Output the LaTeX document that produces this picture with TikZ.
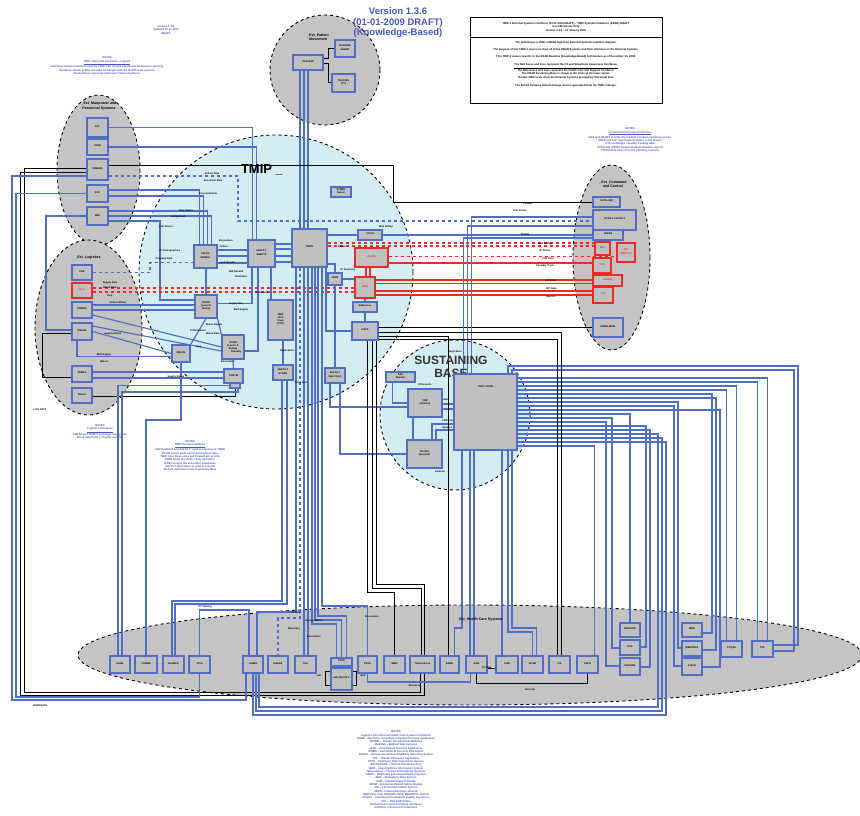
\documentclass[tikz,border=0pt]{standalone}
\usepackage{fontspec}
\setmainfont{Liberation Sans}
\usetikzlibrary{fit}
\pgfdeclarelayer{bg}
\pgfdeclarelayer{lines}
\pgfsetlayers{bg,lines,main}
\definecolor{lnblue}{HTML}{4F6EC6}
\definecolor{ttlblue}{HTML}{4558BC}
\definecolor{extgray}{HTML}{C4C4C4}
\definecolor{tmipblue}{HTML}{D3EDF3}
\definecolor{boxgray}{HTML}{C0C0C0}
\definecolor{lnred}{HTML}{EE2A24}
\newcommand\tinyf{\fontsize{2.5}{3.1}\selectfont}
\newcommand\notef{\fontsize{2.7}{3.3}\selectfont}
\newcommand\bx[5][bbox]{\node[#1, fit={(#3) (#4)}] (#2) {#5};}
\begin{document}
\begin{tikzpicture}[x=1pt,y=-1pt,
 ext/.style={draw=black, dashed, line width=0.9pt, fill=extgray},
 tmipc/.style={draw=black, dashed, line width=0.9pt, fill=tmipblue},
 bbox/.style={draw=lnblue, line width=1.2pt, fill=boxgray, inner sep=0pt, font=\tinyf\bfseries, align=center},
 rbox/.style={draw=lnred, line width=1.2pt, fill=boxgray, inner sep=0pt, font=\tinyf\bfseries, text=lnred, align=center},
 bl/.style={draw=lnblue, line width=1.15pt},
 bk/.style={draw=black, line width=1pt},
 rd/.style={draw=lnred, line width=1.5pt},
 note/.style={text=ttlblue, font=\notef\bfseries, align=center, inner sep=0pt},
 lbl/.style={font=\tinyf\bfseries, inner sep=0.3pt},
 extlbl/.style={font=\fontsize{3.6}{4.2}\selectfont\bfseries, align=center, inner sep=0pt},
]
\useasboundingbox (0,0) rectangle (860,816);
\begin{pgfonlayer}{bg}
 \fill[white] (0,0) rectangle (860,816);
 \draw[ext] (325,70) circle [radius=55];
 \draw[ext] (98.5,170) ellipse [x radius=41.5, y radius=75];
 \draw[ext] (88.5,327.5) ellipse [x radius=53.5, y radius=87.5];
 \draw[ext] (611.5,257.5) ellipse [x radius=38.5, y radius=92.5];
 \draw[ext] (470,655) ellipse [x radius=392, y radius=50];
 \draw[tmipc] (276,272) circle [radius=137];
 \draw[tmipc] (455,415) circle [radius=75];
\end{pgfonlayer}

% ---------- titles and notes
\node[font=\fontsize{9.5}{10.5}\selectfont\bfseries, text=ttlblue, align=center] (title) at (398,23) {Version 1.3.6\\(01-01-2009 DRAFT)\\(Knowledge-Based)};
\node[draw, line width=0.8pt, minimum width=192pt, minimum height=86pt, inner sep=0pt] (hdr) at (566,60) {};
\draw[line width=0.8pt] (hdr.west |- 0,37) -- (hdr.east |- 0,37);
\node[font=\fontsize{2.7}{3.4}\selectfont\bfseries, align=center] (hdrtop) at (566,27) {TMIP-J External Systems Interfaces (01-01-2009 DRAFT) -- TMIP Systems Interfaces (KBAR) DRAFT\\For Official Use Only\\Version 1.3.6 -- 01 January 2009};
\node[font=\fontsize{2.7}{3.3}\selectfont\bfseries, align=center] (hdrbody) at (566,64) {The following is a TMIP-J KBAR high-level External Systems interface diagram.\\[4pt]
The purpose of this TMIP-J view is to show all of the KBAR Systems and their interfaces to the External Systems.\\[4pt]
This TMIP-J view is specific to the KBAR Baseline (Knowledge-Based) Architecture as of December 15, 2008.\\[5pt]
\underline{The Red boxes and lines represent the C2 and Situational Awareness interfaces.}\\
The Blue boxes and lines represent the Health Care and Support interfaces.\\
The KBAR Sustaining Base is shown in the circle at the lower center.\\
The Ext TMIP ovals show the External Systems grouped by functional area.\\[5pt]
The Ext DS Systems Data Exchange chart is generated from the TMIP-J design.};

\node[note] (n1) at (107,66) {NOTES\\\underline{TMIP-J External Interfaces -- Legend}\\Interfaces shown in Red are used by TMIP-J for C2 and Situational Awareness reporting\\Interfaces shown in Blue are data exchanges with the Health Care systems\\Dashed lines represent planned or future interfaces};
\node[note] (n2) at (166,30) {Version 1.3.6\\Updated 01-01-2009\\DRAFT};
\node[note] (n3) at (630,140) {NOTES\\\underline{Command and Control Interfaces}\\MC4 and JMeWS provide the medical common operating picture\\JMAR and JCP report patient status to the theater\\CTS exchanges casualty tracking data\\GCCS and JOPES receive medical situation reports\\TPFDD data flows from the planning systems};
\node[note] (n4) at (100,432) {NOTES\\\underline{Logistics Interfaces}\\DMLSS and TEWLS exchange supply data\\Blood data flows to theater systems};
\node[note] (n4b) at (190,456) {NOTES\\\underline{TMIP Internal Interfaces}\\AHLTA-Mobile and AHLTA-T send encounters to TMDS\\DCAM Level I and Level II send patient data\\TMIP Joint Fixes store and forward all records\\TMDS feeds the theater data repository\\ICDB receives the encounter summaries\\AHLTA-T Web Client is used at Level III\\All data replicates to the Sustaining Base};
\node[note] (n5) at (396,770) {NOTES\\Legend of the External Health Care Systems Interfaces\\ESSE -- Electronic Surveillance System for Early notification\\TOMMS -- Theater Occupational Medicine\\MedWeb -- Medical Web Services\\JPTA -- Joint Patient Tracking Application\\ASIMS -- Aeromedical Services Information\\DEERS -- Defense Enrollment Eligibility Reporting System\\TPA -- Theater Pharmacy Application\\PDTS -- Pharmacy Data Transaction Service\\AHLTA/CHCS -- Clinical Data Repository\\NMIS -- Navy Medicine Information System\\Telemedicine -- Theater Telemedicine Services\\SAMS -- Shipboard Automated Medical System\\AMS -- Ambulatory Data System\\CSM -- Clinical Support Module\\EPSM -- Enterprise Patient Safety Module\\CIS -- Clinical Information System\\PEPR -- Patient Electronic Record\\MEDCOM, CSA, DOEHRS, MHS, MEDPROS, AHLTA\\CCQAS -- Centralized Credentials Quality Assurance\\TOL -- TRICARE Online\\Dashed lines represent future interfaces\\Red lines represent C2 interfaces};
\node[lbl] (lbl1) at (40,410) {LOG DATA};
\node[lbl] (lbl2) at (40,706) {CHDR DATA};

% ---------- region labels
\node[extlbl] (lpm) at (318,37) {\_Ext\_Patient\\Movement};
\node[extlbl] (lmp) at (99,106) {\_Ext\_Manpower and\\Personnel Systems};
\node[extlbl] (llg) at (88,258) {\_Ext\_Logistics};
\node[extlbl] (lc2) at (613,184) {\_Ext\_Command\\and Control};
\node[extlbl] (lhc) at (480,620) {\_Ext\_Health Care Systems};
\node[font=\fontsize{13}{14}\selectfont\bfseries] (ltmip) at (262,170) {TMIP \_};
\node[font=\fontsize{12}{13}\selectfont\bfseries, text=black!80, align=center] (lsb) at (451,367) {SUSTAINING\\BASE};

% ---------- boxes
\bx{pm1}{293,55}{323,70}{TRAC2ES}
\bx{pm2}{335,40}{355,57}{TRAC2ES\\AGENT}
\bx{pm3}{332,74}{355,92}{TRAC2ES\\(TF)}

\bx{mp1}{87,118}{108,137}{DTF}
\bx{mp2}{87,139}{108,155}{DTAS}
\bx{mp3}{87,159}{108,180}{DIMHRS}
\bx{mp4}{87,185}{108,202}{DAV}
\bx{mp5}{87,207}{108,225}{MRI}

\bx{lg1}{72,265}{92,280}{CSE}
\bx[rbox]{lg2}{72,283}{92,298}{DLA}
\bx{lg3}{72,302}{92,318}{TAMMIS}
\bx{lg4}{72,323}{92,340}{DMLSS}
\bx{lg5}{72,366}{92,382}{TEWLS}
\bx{lg6}{72,388}{92,403}{Blood}

\bx{c1}{593,197}{620,207}{GCCS-A/M}
\bx{c2}{593,210}{636,230}{GCCS-J / GCSS-J}
\bx{c3}{593,230}{623,240}{JOPES}
\bx[rbox]{r1}{595,242}{610,255}{MC4}
\bx[rbox]{r2}{617,243}{635,262}{JTF\\MEDCCS}
\bx[rbox]{r3}{593,258}{611,273}{CTS}
\bx[rbox]{r4}{593,275}{622,286}{JMEWS}
\bx[rbox]{r5}{593,287}{613,303}{JCP}
\bx{c4}{593,318}{623,337}{MMSS-MDW}

\bx{t_sym}{331,187}{351,197}{SYMED\\Server}
\bx{t_main}{292,229}{327,267}{TMDS}
\bx{t_a}{248,240}{275,267}{AHLTA-T\\SHEPTS}
\bx{t_b}{194,245}{217,268}{AHLTA-\\MOBILE}
\bx{t_c}{358,230}{382,240}{TCCM}
\bx[rbox]{t_red1}{355,248}{388,267}{JMeWS}
\bx{t_d}{328,273}{342,285}{ICDB}
\bx[rbox]{t_red2}{355,277}{375,298}{JMAR}
\bx{t_e}{353,302}{377,312}{Reference}
\bx{t_f}{352,322}{378,340}{CHCS}
\bx{t_g}{195,295}{217,318}{DCAM\\(Level II\\Above)}
\bx{t_h}{268,300}{293,340}{TMIP\\Joint\\Fixes\\(TC2)}
\bx{t_i}{172,345}{190,362}{DMLSS}
\bx{t_j}{222,335}{244,359}{DCAM\\(Level I \&\\Below)}
\bx{t_k}{224,369}{243,383}{TMIP-M}
\bx{t_k2}{230,383}{240,388}{}
\bx{t_l}{273,365}{293,380}{AHLTA-T\\STORE}
\bx{t_m}{325,368}{345,383}{AHLTA-T\\Web Client}

\bx{s1}{386,372}{415,382}{SSO\\Monitor}
\bx{s2}{408,389}{442,417}{CDR\\(Clinical)}
\bx{s3}{407,440}{442,468}{CHCS II\\(Sentinel)}
\node[bbox, fit={(454,374) (517,450)}, label={[lbl, anchor=north, yshift=-12pt]north:CDR / CHDR}] (s4) {};

\bx{h1}{110,656}{130,673}{ESSE}
\bx{h2}{135,656}{157,673}{TOMMS}
\bx{h3}{163,656}{184,673}{MedWeb}
\bx{h4}{189,656}{210,673}{JPTA}
\bx{h5}{243,656}{263,673}{ASIMS}
\bx{h6}{268,656}{288,673}{DEERS}
\bx{h7}{295,656}{316,673}{TPA}
\bx{h8a}{331,658}{352,666}{PDTS}
\bx{h8b}{331,668}{352,690}{AHLTA/CHCS}
\bx{h9}{358,656}{377,673}{PDTS}
\bx{h10}{384,656}{405,673}{NMIS}
\bx{h11}{410,656}{435,673}{Telemedicine}
\bx{h12}{440,656}{459,673}{SAMS}
\bx{h13}{466,656}{487,673}{AMS}
\bx{h14}{496,656}{518,673}{CSM}
\bx{h15}{522,656}{543,673}{EPSM}
\bx{h16}{549,656}{570,673}{CIS}
\bx{h17}{577,656}{598,673}{PEPR}
\bx{col1a}{620,623}{640,637}{MEDCOM}
\bx{col1b}{620,640}{640,655}{CSA}
\bx{col1c}{620,658}{640,675}{DOEHRS}
\bx{col2a}{682,623}{702,637}{MHS}
\bx{col2b}{682,641}{702,656}{MEDPROS}
\bx{col2c}{682,658}{702,675}{AHLTA}
\bx{h18}{721,641}{742,657}{CCQAS}
\bx{h19}{752,641}{773,657}{TOL}

% ---------- connectors
\begin{pgfonlayer}{lines}
% patient movement
\foreach \x in {300,304,308}{\draw[bl] (pm1.south -| \x,0) -- (t_main.north -| \x,0);}
\draw[bk] (pm1.east |- 0,59) -- (328,59) |- (pm2.west);
\draw[bk] (pm1.east |- 0,64) -- (328,64) |- (pm3.west);
% manpower
\draw[bl] (mp1.east) -| ([xshift=-9pt]t_a.north);
\draw[bl] (mp2.east) -| ([xshift=-5pt]t_a.north);
\draw[bk] (mp3.east |- 0,165) -- (393,165) -- (393,202) -- (c1.west);
\draw[bl,dashed] (mp3.east |- 0,176) -| (238,221) -- (c2.west |- 0,221);
\draw[bl] (mp4.east |- 0,190) -| ([xshift=-6pt]t_b.north);
\draw[bl] (mp4.east |- 0,196) -| ([xshift=-2pt]t_b.north);
\draw[bl] (mp5.east |- 0,211) -| ([xshift=2pt]t_b.north);
\draw[bl] (mp5.east |- 0,216) -| ([xshift=6pt]t_b.north);
\draw[bl] (mp5.east |- 0,221) -| (160,300) -- (t_g.west |- 0,300);
% left frame
\draw[bk] (mp3.west |- 0,168) -| (24,692) -| ([xshift=-2pt]h11.south);
\draw[bk] (mp3.west |- 0,172) -| (20,695) -| ([xshift=2pt]h11.south);
\draw[bl] (mp3.west |- 0,176) -| (12,700) -| ([xshift=-7pt]h5.south);
\draw[bl] (mp4.west) -| (16,697) -| (h4.south);
% logistics
\draw[bl,dashed] (lg1.east) -- (150,272.5) |- ([yshift=-6pt]t_b.west);
\draw[rd,dashed] (lg2.east |- 0,288) -- (t_red2.west |- 0,288);
\draw[rd,dashed] (lg2.east |- 0,292) -- (t_red2.west |- 0,292);
\draw[bl] (lg3.east |- 0,305) -- (t_g.west |- 0,305);
\draw[bl] (lg3.east |- 0,310) -- (t_g.west |- 0,310);
\draw[bl] (lg3.east |- 0,315) -- (t_j.west);
\draw[bl] (lg4.east |- 0,326) -- ([yshift=-4pt]t_j.west);
\draw[bl] (lg4.east) -- (t_i.west);
\draw[bl] ([xshift=-5pt]lg4.south) |- ([yshift=-3pt]t_i.west);
\draw[bk] (lg4.west |- 0,333) -| (42,377) -- (lg5.west |- 0,377);
\draw[bl] (mp5.west) -| (46,330) -- (lg4.west |- 0,330);
\draw[bl] (lg5.east |- 0,372) -- (t_k.west |- 0,372);
\draw[bl] (lg5.east |- 0,378) -- (t_k.west |- 0,378);
\draw[bk] (lg6.east |- 0,396) -| (t_k2.south);
% TMIP internal
\foreach \y in {244,249,256,262}{\draw[bl] (t_a.east |- 0,\y) -- (t_main.west |- 0,\y);}
\foreach \y in {250,256,263}{\draw[bl] (t_b.east |- 0,\y) -- (t_a.west |- 0,\y);}
\draw[bl] (t_b.south -| 206,0) -- (t_g.north -| 206,0);
\draw[bl] (t_a.south -| 252,0) |- ([yshift=3pt]t_g.east);
\draw[bl] (t_a.south -| 258,0) |- ([yshift=-4pt]t_j.east);
\draw[bl] (t_a.south -| 271,0) -- (t_h.north -| 271,0);
\draw[bl] (t_h.south -| 283,0) -- (t_l.north -| 283,0);
\draw[bl] (t_g.south) -- (t_i.north east);
\draw[bl] (t_g.south east) -- (t_j.north west);
\draw[bl] (t_j.south) -- (t_k.north);
\draw[bl] (t_main.east |- 0,235) -- (t_c.west);
\draw[bl] (t_main.east |- 0,264) -| (t_d.north);
\draw[bl] (t_d.east) -- (t_red2.west |- t_d.east);
\draw[bl] (t_main.south -| 326,0) |- (t_f.west);
\draw[bl] (t_m.north -| 335,0) -- (t_d.south -| 335,0);
\draw[bl] (t_red2.south -| 365,0) -- (t_e.north -| 365,0);
\draw[rd] (t_red1.south -| 366,0) -- (t_red2.north -| 366,0);
\draw[rd] (t_red1.south -| 370,0) -- (t_red2.north -| 370,0);
\draw[bl] (t_e.south -| 365,0) -- (t_f.north -| 365,0);
% red to command and control
\draw[rd,dashed] (t_main.east |- 0,243) -- (r1.west |- 0,243);
\draw[rd,dashed] (t_main.east |- 0,246) -- (r1.west |- 0,246);
\draw[rd,dashed] (t_red1.east |- 0,256.5) -- (r2.west |- 0,256.5);
\draw[rd] (t_red1.east |- 0,263) -- (r3.west |- 0,263);
\draw[rd] (t_red2.east |- 0,280) -- (r4.west |- 0,280);
\draw[rd] (t_red2.east |- 0,283.5) -- (r4.west |- 0,283.5);
\draw[rd] (t_red2.east |- 0,291) -- (r5.west |- 0,291);
\draw[rd] (t_red2.east |- 0,295) -- (r5.west |- 0,295);
% command and control, blue and black
\draw[bl] (c3.west) -- (t_c.east);
\draw[bk] (c4.west) -- (t_f.east |- c4.west);
\draw[bl] (c3.west |- 0,238) -| ([xshift=-22pt]s4.north);
\draw[bl] (c2.west |- 0,226) -| ([xshift=-18pt]s4.north);
\draw[bl] (c2.west |- 0,217) -| ([xshift=-14pt]s4.north);
% sustaining base
\draw[bl] ([xshift=-8pt]s1.south) |- (s2.west);
\draw[bl] (s2.south -| 413,0) -- (s3.north -| 413,0);
\draw[bl] (s2.east |- 0,404) -- (s4.west |- 0,404);
\draw[bl] (s2.east |- 0,409) -- (s4.west |- 0,409);
\draw[bl] (s3.north -| 432,0) |- (s4.west |- 0,424);
\draw[bl] (s3.north -| 436,0) |- (s4.west |- 0,430);
\draw[bl] (t_m.south -| 330,0) |- (s2.west |- 0,407);
\draw[bl] (t_m.south -| 340,0) |- (s3.west);
\draw[bl] (s4.south -| 462,0) -- (462,628) -| ([xshift=5pt]h12.north);
\draw[bl] (s4.south -| 470,0) -- (h13.north -| 470,0);
\draw[bl] (s4.south -| 474,0) -- (h13.north -| 474,0);
\draw[bl] (s4.south -| 502,0) -- (h14.north -| 502,0);
\draw[bl] (s4.south -| 508,0) -- (508,632) -| (h15.north);
\draw[bl] (s4.south -| 512,0) -- (512,628) -| ([xshift=4pt]h15.north);
\draw[bl] (s4.north -| 508,0) |- (798,366) |- (h19.east |- 0,645);
\draw[bl] (s4.north -| 512,0) |- (794,370) |- (h19.east |- 0,651);
\draw[bl] (s4.east |- 0,378) -| ([xshift=5pt]h19.north);
\draw[bl] (s4.east |- 0,382) -| ([xshift=-5pt]h19.north);
\draw[bl] (s4.east |- 0,386) -| ([xshift=5pt]h18.north);
\draw[bl] (s4.east |- 0,390) -| ([xshift=-5pt]h18.north);
\draw[bl] (s4.east |- 0,394) -| (712,633) -- (col2a.east |- 0,633);
\draw[bl] (s4.east |- 0,398) -| (716,650) -- (col2b.east |- 0,650);
\draw[bl] (s4.east |- 0,402) -| (678,648) -- (col2b.west |- 0,648);
\draw[bl] (s4.east |- 0,406) -| (674,666) -- (col2c.west |- 0,666);
\draw[bl] (s4.east |- 0,410) -| (720,667) -- (col2c.east |- 0,667);
\draw[bl] (s4.east |- 0,414) -| (col1a.north);
\draw[bl] (s4.east |- 0,418) -| (612,648) -- (col1b.west |- 0,648);
\draw[bl] (s4.east |- 0,422) -| (606,666) -- (col1c.west |- 0,666);
\draw[bl] (s4.east |- 0,426) -| (646,647) -- (col1b.east |- 0,647);
\draw[bl] (s4.east |- 0,430) -| (650,667) -- (col1c.east |- 0,667);
\draw[bl] (s4.east |- 0,434) -| (658,707) -| ([xshift=6pt]h5.south);
\draw[bl] (s4.east |- 0,438) -| (662,711) -| ([xshift=3pt]h5.south);
\draw[bl] (s4.east |- 0,442) -| (666,715) -| (h5.south);
\draw[bl] (s4.east |- 0,446) -| ([xshift=7pt]h17.north);
% black from CHCS
\draw[bk] (t_f.south -| 367,0) -- (367,592) -| (h10.north);
\draw[bk] (t_f.south -| 372,0) -- (372,588) -| ([xshift=-1.5pt]h11.north);
\draw[bk] (t_f.south -| 376,0) -- (376,584) -| ([xshift=1.5pt]h11.north);
\draw[bk] (t_f.east |- 0,336) -| ([xshift=-1.5pt]h12.north);
\draw[bk] (t_f.east |- 0,339) -| ([xshift=-2pt]h16.north);
\draw[bk] (t_f.east |- 0,332) -| ([xshift=2pt]h16.north);
% TMDS bus to health care
\draw[bl] (t_main.south -| 296,0) -- (296,612) -| ([xshift=4pt]h5.north);
\draw[bl,dashed] (t_main.south -| 300,0) -- (300,618) -| (h6.north);
\draw[bl] (t_main.south -| 304,0) -- (h7.north -| 304,0);
\draw[bl] (t_main.south -| 308,0) -- (h7.north -| 308,0);
\draw[bl] (t_main.south -| 312,0) -- (312,624) -| ([xshift=-5pt]h8a.north);
\draw[bl] (t_main.south -| 315,0) -- (315,620) -| (h8a.north);
\draw[bl] (t_main.south -| 318,0) -- (318,616) -| ([xshift=5pt]h8a.north);
\draw[bl] (t_main.south -| 322,0) -- (322,606) -| (h9.north);
% health care
\draw[bl] (h8a.south) -- (h8b.north);
\draw[bk] (h8b.west |- 0,671) -- (325,671) -- (325,685) -- (h8b.west |- 0,685);
\draw[bk] (h8b.east |- 0,671) -- (356,671) -- (356,685) -- (h8b.east |- 0,685);
\draw[bk] (h13.south) -- (h13.south |- 0,683) -| (h17.south);
\draw[bk] (h13.east |- 0,668) -- (h14.west |- 0,668);
\draw[bl] (h9.south) -- (h9.south |- 0,682) -| ([xshift=-6pt]h13.south);
\draw[bl] ([xshift=-2pt]h1.north) |- (t_k2.west);
\draw[bl] ([xshift=2pt]h1.north) |- (150,392) -| ([xshift=3pt]t_k2.south);
\draw[bl] (h2.north) -- (h2.north |- 0,420) -| (t_i.south);
\draw[bl] ([xshift=-1.5pt]h3.north) |- (282,601) -- (t_l.south -| 282,0);
\draw[bl] ([xshift=1.5pt]h3.north) |- (287,604) -- (t_l.south -| 287,0);
\draw[bl] (h4.north) -- (h4.north |- 0,610) -| ([xshift=-4pt]h5.north);
\end{pgfonlayer}

% ---------- connector labels
\foreach \x/\y/\t in {212/174/Patient Data, 213/181/Encounter Data, 208/194/Personnel Data, 186/211/Duty Status, 178/217/Assignment,
 166/227/Unit Roster, 170/251/Pt Demographics, 164/259/Casualty Data, 226/241/Encounters, 224/247/Orders, 228/263/Lab Results,
 236/272/Rad Results, 241/277/Pharmacy, 262/293/Pt Records, 236/304/Supply Req, 241/310/Med Supply, 214/325/Status Report,
 198/331/Pt Movement, 213/334/Blood Data, 236/352/Casualty, 228/362/Encounters, 176/377/Supply Status, 199/347/Req,
 301/383/Store Fwd, 287/351/Replication, 342/247/Status, 348/270/Pt Summary, 386/227/Med SitRep, 545/244/Med SitRep,
 545/251/Pt Status, 548/259/COP Data, 545/266/Casualty Track, 551/281/Pt Track, 551/289/JCP Data, 551/297/Reports,
 520/211/Unit Status, 528/204/C2 Data, 525/235/TPFDD, 110/283/Supply Data, 110/288/Blood Data, 110/296/Req,
 118/303/Orders Status, 113/334/Supply Status, 104/355/Med Supply, 104/362/Blood, 296/613/Pt Data,
 314/621/Demographics, 294/629/Pharmacy, 314/637/Encounters, 205/607/Pt Tracking, 372/617/Encounters,
 319/676/Lab, 363/676/Rad, 415/686/Encounter, 487/668/Pt Data, 530/690/Records, 455/352/Replication,
 425/385/Pt Records, 446/400/Data, 448/421/CDR Data, 447/428/Updates, 440/472/Sentinel}
 {\node[lbl] (L\x-\y) at (\x,\y) {\t};}
\end{tikzpicture}
\end{document}
